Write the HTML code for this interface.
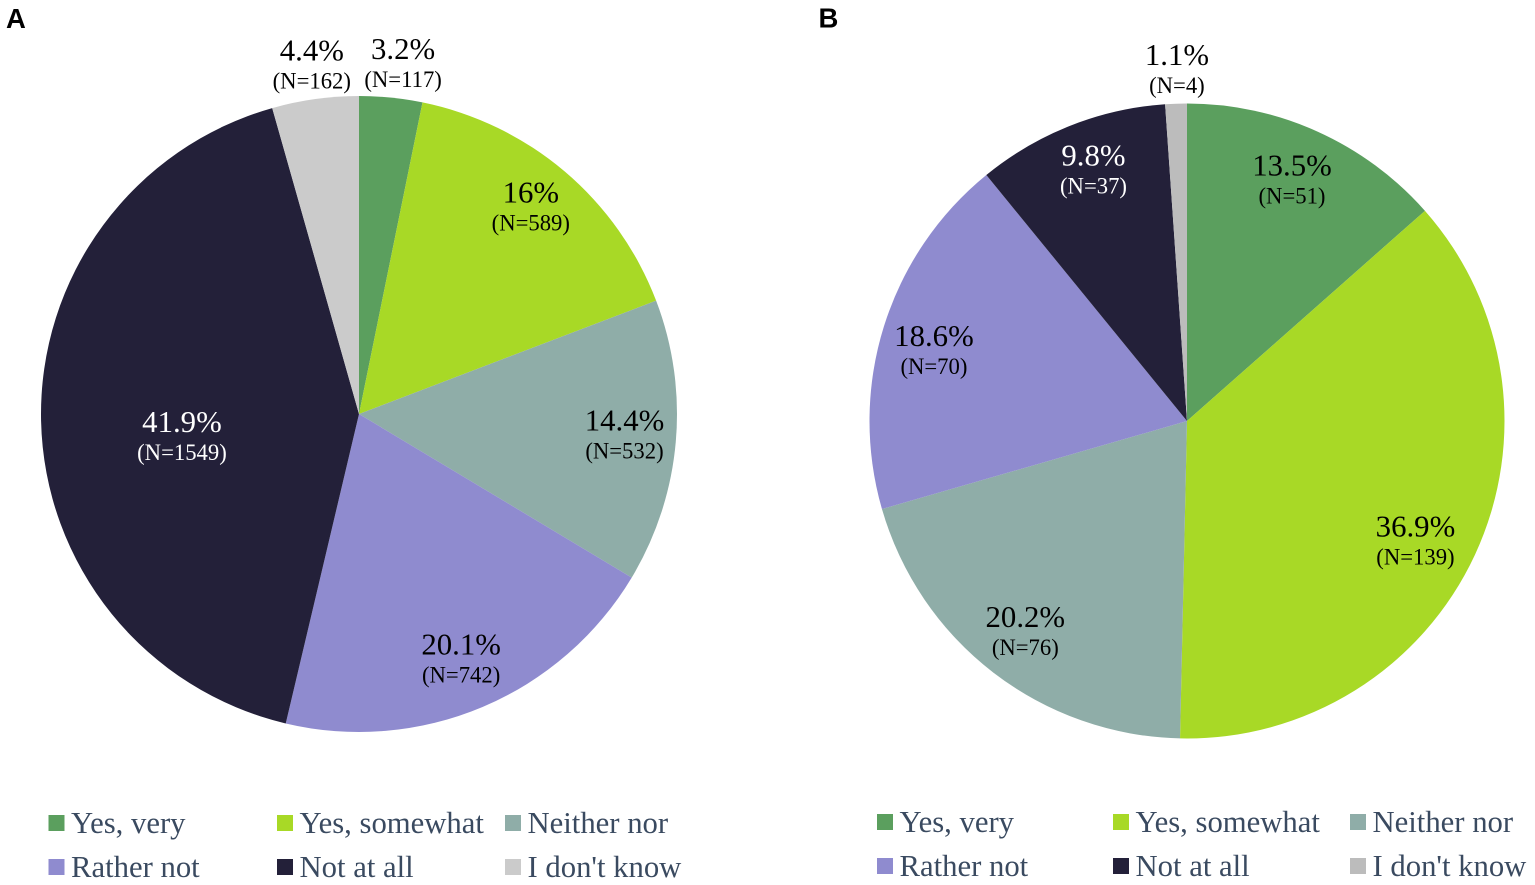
<!DOCTYPE html>
<html lang="en">
<head>
<meta charset="utf-8">
<title>Pie charts A and B</title>
<style>
html,body{margin:0;padding:0;background:#fff;}
body{width:1535px;height:885px;overflow:hidden;position:relative;}
svg{display:block;position:absolute;left:0;top:0;}
.pct{font-family:"Liberation Serif",serif;font-size:30.8px;}
.cnt{font-family:"Liberation Serif",serif;font-size:22.7px;}
.leg{font-family:"Liberation Serif",serif;font-size:30.7px;fill:#3a4a60;}
.panel{font-family:"Liberation Sans",sans-serif;font-size:27.5px;font-weight:bold;fill:#000;}
</style>
</head>
<body>
<svg id="chart" width="1535" height="885" viewBox="0 0 1535 885" xmlns="http://www.w3.org/2000/svg">
  <text class="panel" x="6" y="28">A</text>
  <text class="panel" x="818.5" y="27.5">B</text>
</svg>
<script>
const categories = ["Yes, very", "Yes, somewhat", "Neither nor", "Rather not", "Not at all", "I don't know"];
const percentLabelsA = ["3.2%", "16%", "14.4%", "20.1%", "41.9%", "4.4%"];
const valuesA = [3.2, 16, 14.4, 20.1, 41.9, 4.4];
const countsA = [117, 589, 532, 742, 1549, 162];
const percentLabelsB = ["13.5%", "36.9%", "20.2%", "18.6%", "9.8%", "1.1%"];
const valuesB = [13.5, 36.9, 20.2, 18.6, 9.8, 1.1];
const countsB = [51, 139, 76, 70, 37, 4];

const colors = ["#5b9f5e", "#a8d926", "#8fada8", "#8f8bcf", "#232039", "#cbcbcb"];
const colorsB = ["#5b9f5e", "#a8d926", "#8fada8", "#8f8bcf", "#232039", "#bcbcbc"];

const NS = "http://www.w3.org/2000/svg";
const svg = document.getElementById("chart");

function angleScale(cum, total) {
  return cum / total * 2 * Math.PI;
}
function polar(cx, cy, r, a) {
  return [cx + r * Math.sin(a), cy - r * Math.cos(a)];
}
function labelRadius(v, r) {
  if (v < 5) return r * 1.1;
  if (v > 40) return r * 0.56;
  return r * 0.835;
}
/* hand placement of each label relative to its computed anchor */
function labelNudge(panel, i) {
  const a = [[9, -5], [0, -7], [1, -5], [-1, -2], [1, 16], [1, -5]];
  const b = [[-4, -2], [-12, 6], [0, -2], [0, 6], [4, -7], [2, -5]];
  return (panel === "a" ? a : b)[i];
}

function drawPie(panel, values, labels, counts, palette, cx, cy, r) {
  const total = values.reduce((a, b) => a + b, 0);
  let cum = 0;
  values.forEach((v, i) => {
    const a0 = angleScale(cum, total);
    const a1 = angleScale(cum + v, total);
    const [x0, y0] = polar(cx, cy, r, a0);
    const [x1, y1] = polar(cx, cy, r, a1);
    const large = a1 - a0 > Math.PI ? 1 : 0;
    const path = document.createElementNS(NS, "path");
    path.setAttribute("d", `M${cx},${cy}L${x0},${y0}A${r},${r} 0 ${large} 1 ${x1},${y1}Z`);
    path.setAttribute("fill", palette[i]);
    
    
    svg.appendChild(path);
    cum += v;
  });
  cum = 0;
  values.forEach((v, i) => {
    const mid = angleScale(cum + v / 2, total);
    const [lx0, ly0] = polar(cx, cy, labelRadius(v, r), mid);
    const [nx, ny] = labelNudge(panel, i);
    const lx = lx0 + nx;
    const ly = ly0 + ny;
    const fill = i === 4 ? "#fff" : "#000";
    const t1 = document.createElementNS(NS, "text");
    t1.setAttribute("class", "pct");
    t1.setAttribute("x", lx);
    t1.setAttribute("y", ly - 2);
    t1.setAttribute("text-anchor", "middle");
    t1.setAttribute("fill", fill);
    t1.textContent = labels[i];
    
    
    svg.appendChild(t1);
    const t2 = document.createElementNS(NS, "text");
    t2.setAttribute("class", "cnt");
    t2.setAttribute("x", lx);
    t2.setAttribute("y", ly + 26);
    t2.setAttribute("text-anchor", "middle");
    t2.setAttribute("fill", fill);
    t2.textContent = "(N=" + counts[i] + ")";
    
    
    svg.appendChild(t2);
    cum += v;
  });
}

function drawLegend(palette, x1, x2, x3, y1, y2) {
  const xs = [x1, x2, x3];
  const ys = [y1, y2];
  categories.forEach((c, i) => {
    const x = xs[i % 3];
    const y = ys[Math.floor(i / 3)];
    const sw = document.createElementNS(NS, "rect");
    sw.setAttribute("x", x);
    sw.setAttribute("y", y - 8);
    sw.setAttribute("width", 16);
    sw.setAttribute("height", 16);
    sw.setAttribute("fill", palette[i]);
    
    
    svg.appendChild(sw);
    const t = document.createElementNS(NS, "text");
    t.setAttribute("class", "leg");
    t.setAttribute("x", x + 22.5);
    t.setAttribute("y", y + 10);
    t.textContent = c;
    
    
    svg.appendChild(t);
  });
}

drawPie("a", valuesA, percentLabelsA, countsA, colors, 359, 414, 318);
drawPie("b", valuesB, percentLabelsB, countsB, colorsB, 1187, 421, 317.5);
drawLegend(colors, 48.5, 277, 505, 823, 867);
drawLegend(colorsB, 877, 1113, 1350, 822, 866);
</script>
</body>
</html>
